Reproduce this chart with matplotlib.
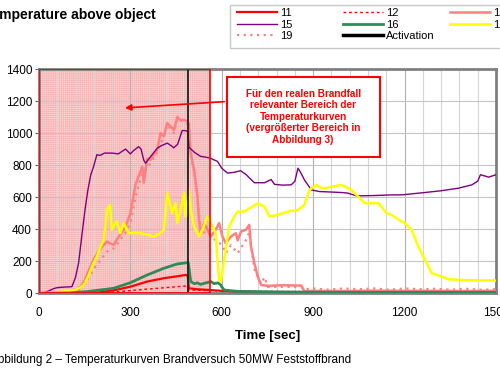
import matplotlib
matplotlib.use('Agg')
import matplotlib.pyplot as plt
from matplotlib.patches import Rectangle
from matplotlib.lines import Line2D
from matplotlib.ticker import MultipleLocator

plt.rcParams['font.family'] = ['Liberation Sans', 'DejaVu Sans']
plt.rcParams['hatch.linewidth'] = 0.5

# sensor 11 (red)
t11 = [0, 150, 190, 250, 300, 355, 410, 450, 481, 488, 492, 520, 560, 600, 700, 800, 950]
v11 = [0, 0, 3, 20, 41, 73, 94, 105, 114, 112, 31, 25, 20, 15, 8, 5, 4]

# sensor 12 (red dotted)
t12 = [0, 150, 250, 350, 480, 492, 600, 700, 900, 1100, 1300, 1500]
v12 = [0, 0, 8, 25, 45, 20, 15, 12, 10, 10, 10, 10]

# sensor 13 (salmon)
t13 = [0, 100, 130, 151, 165, 179, 195, 207, 223, 235, 245, 262, 284, 300, 317, 339, 344, 355,
       366, 388, 399, 410, 421, 432, 443, 454, 465, 476, 487, 492, 498, 509, 520, 525, 531, 542,
       553, 564, 580, 591, 602, 613, 630, 646, 652, 663, 679, 690, 696, 707, 718, 729, 751, 800,
       861, 866, 871, 900, 1000, 1100, 1200, 1300, 1400, 1500]
v13 = [0, 5, 20, 83, 150, 208, 260, 291, 322, 310, 302, 354, 416, 500, 680, 790, 690, 840,
       833, 896, 1000, 980, 1062, 1040, 1020, 1100, 1080, 1083, 1072, 1060, 875, 771, 604, 458, 375, 438,
       396, 354, 396, 438, 354, 312, 354, 375, 330, 385, 396, 427, 291, 187, 104, 52, 46, 50,
       48, 30, 12, 15, 14, 16, 15, 15, 14, 15]

# sensor 15 (purple)
t15 = [0, 20, 50, 60, 80, 108, 120, 130, 140, 151, 160, 170, 179, 190, 200, 215, 240, 260, 284,
       300, 310, 327, 335, 344, 350, 365, 388, 400, 421, 435, 442, 455, 470, 481, 488, 492, 510,
       530, 560, 586, 600, 619, 640, 662, 680, 707, 740, 762, 773, 800, 828, 840, 850, 860, 871,
       894, 920, 970, 1000, 1014, 1042, 1100, 1157, 1190, 1267, 1320, 1377, 1421, 1440, 1449,
       1476, 1500]
v15 = [0, 5, 30, 35, 38, 41, 100, 190, 350, 520, 640, 740, 790, 865, 860, 875, 875, 870, 900,
       870, 890, 915, 900, 830, 812, 850, 905, 920, 937, 920, 908, 930, 1016, 1015, 1010, 912, 880,
       855, 845, 823, 780, 750, 755, 765, 740, 690, 690, 710, 680, 675, 677, 700, 781, 750, 708,
       645, 635, 631, 628, 625, 608, 610, 614, 614, 629, 640, 656, 677, 700, 740,
       725, 740]

# sensor 16 (green)
t16 = [0, 100, 157, 200, 245, 300, 355, 410, 454, 487, 490, 498, 510, 520, 530, 542, 555, 564,
       575, 586, 595, 600, 608, 650, 800, 1000, 1500]
v16 = [0, 2, 10, 20, 31, 66, 114, 156, 183, 191, 190, 73, 60, 65, 55, 62, 68, 73,
       60, 65, 55, 40, 20, 12, 8, 6, 6]

# sensor 17 (yellow)
t17 = [0, 50, 100, 119, 140, 151, 165, 174, 190, 200, 212, 218, 223, 233, 239, 247, 256, 267,
       278, 294, 317, 333, 355, 377, 395, 410, 421, 437, 448, 454, 465, 476, 481, 492, 498, 509,
       525, 536, 553, 569, 580, 586, 591, 597, 608, 624, 641, 652, 674, 700, 718, 740, 756, 784,
       817, 850, 871, 888, 910, 927, 938, 992, 1025, 1047, 1069, 1114, 1141, 1157, 1190, 1201,
       1223, 1245, 1267, 1289, 1322, 1344, 1400, 1500]
v17 = [0, 5, 15, 20, 40, 64, 120, 166, 230, 280, 333, 420, 520, 552, 396, 430, 448, 376,
       438, 375, 376, 376, 365, 354, 370, 396, 625, 500, 562, 438, 521, 625, 479, 646, 520, 416,
       354, 396, 479, 416, 375, 200, 83, 73, 208, 416, 479, 510, 510, 540, 562, 541, 479, 489,
       510, 520, 552, 646, 677, 656, 656, 677, 646, 604, 562, 562, 500, 489, 448, 437,
       396, 291, 208, 125, 104, 87, 82, 79]

# sensor 19 (salmon dotted)
t19 = [0, 100, 151, 179, 207, 223, 245, 262, 284, 300, 317, 339, 355, 388, 410, 421, 443, 454,
       476, 487, 498, 509, 520, 531, 553, 580, 602, 613, 630, 652, 679, 690, 707, 729, 740, 751,
       800, 861, 871, 900, 950, 1000, 1050, 1100, 1150, 1200, 1250, 1300, 1350, 1400, 1450, 1500]
v19 = [0, 5, 60, 150, 220, 260, 280, 320, 380, 440, 600, 750, 780, 880, 980, 1050, 1000, 1090,
       1070, 1060, 860, 760, 600, 380, 380, 330, 300, 250, 300, 250, 330, 380, 150, 60, 100, 40,
       40, 40, 25, 30, 22, 30, 25, 30, 22, 30, 25, 28, 22, 28, 22, 25]

activation_time = 490
region_end = 560

fig = plt.figure(figsize=(5, 3.75), dpi=100)
ax = fig.add_axes([0.078, 0.218, 0.914, 0.598])

# highlighted region
ax.add_patch(Rectangle((0, 0), region_end, 1400, facecolor='#fdd6d6', edgecolor='#f6b4b4',
                       hatch='++++++++', lw=0, zorder=1))
ax.add_patch(Rectangle((0, 0), region_end, 1400, fill=False, edgecolor='red', lw=1.2, zorder=6))

l12, = ax.plot(t12, v12, color='red', lw=1, ls=(0, (2, 2)), zorder=3)
l11, = ax.plot(t11, v11, color='red', lw=1.6, zorder=4)
l19, = ax.plot(t19, v19, color='#ff8080', lw=1.6, ls=(0, (1, 2)), zorder=3)
l13, = ax.plot(t13, v13, color='#ff8080', lw=1.8, zorder=3)
l15, = ax.plot(t15, v15, color='#800080', lw=1, zorder=3)
l16, = ax.plot(t16, v16, color='#2e8b57', lw=2, zorder=4)
l17, = ax.plot(t17, v17, color='#ffff00', lw=1.8, zorder=3)
ax.plot([activation_time, activation_time], [0, 1400], color='#202020', lw=1.3, zorder=5)
lact = Line2D([], [], color='black', lw=2.5)

# note box with arrow
ax.add_patch(Rectangle((617, 852), 501, 500, facecolor='white', edgecolor='red', lw=1.5, zorder=7))
ax.text(867, 1102, 'Für den realen Brandfall\nrelevanter Bereich der\nTemperaturkurven\n'
        '(vergrößerter Bereich in\nAbbildung 3)', ha='center', va='center', color='red',
        fontweight='bold', fontsize=7.2, linespacing=1.2, zorder=8)
ax.annotate('', xy=(273, 1156), xytext=(617, 1197),
            arrowprops=dict(arrowstyle='-|>', color='red', lw=1.2, mutation_scale=9), zorder=8)

ax.set_xlim(0, 1500)
ax.set_ylim(0, 1400)
ax.xaxis.set_major_locator(MultipleLocator(300))
ax.xaxis.set_minor_locator(MultipleLocator(60))
ax.yaxis.set_major_locator(MultipleLocator(200))
ax.grid(which='minor', axis='x', color='#d4d4d4', lw=0.8)
ax.grid(which='major', axis='x', color='#b0b0b0', lw=0.8)
ax.grid(which='major', axis='y', color='#c4c4c4', lw=0.8)
ax.tick_params(which='minor', length=0)
ax.tick_params(axis='x', length=0, pad=10, labelsize=8.5)
ax.tick_params(axis='y', length=3, pad=2, labelsize=8.5, color='#606060')
for s in ax.spines.values():
    s.set_color('#808080')
    s.set_linewidth(2)
ax.set_xlabel('Time [sec]', fontweight='bold', fontsize=9.5, labelpad=8)

fig.text(-0.032, 0.96, 'Temperature above object', fontweight='bold', fontsize=10, va='center')
fig.text(-0.021, 0.04, 'Abbildung 2 – Temperaturkurven Brandversuch 50MW Feststoffbrand',
         fontsize=8.5, va='center')

# legend: frame plus three columns
fig.add_artist(Rectangle((0.46, 0.872), 0.6, 0.115, transform=fig.transFigure,
                         facecolor='white', edgecolor='#c8c8c8', lw=1))
cols = [([l11, l15, l19], ['11', '15', '19'], 0.473),
        ([l12, l16, lact], ['12', '16', 'Activation'], 0.686),
        ([l13, l17], ['13', '17'], 0.900)]
for handles, labels, x in cols:
    fig.legend(handles, labels, loc='upper left', bbox_to_anchor=(x, 0.978), frameon=False,
               fontsize=8, handlelength=3.6, handletextpad=0.3, labelspacing=0.12,
               borderpad=0, borderaxespad=0)

fig.savefig('out.png', dpi=100)
